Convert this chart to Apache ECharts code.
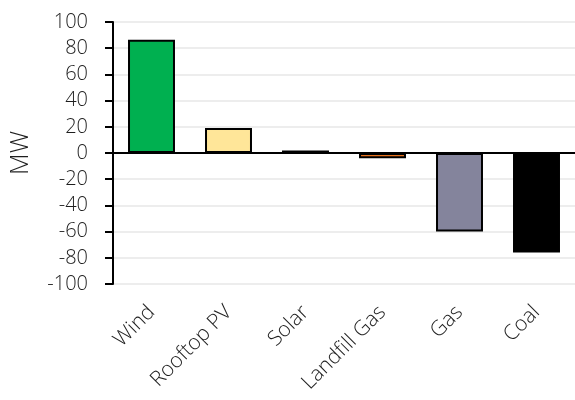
<!DOCTYPE html>
<html>
<head>
<meta charset="utf-8">
<script src="https://cdn.jsdelivr.net/npm/echarts@6/dist/echarts.min.js"></script>
<style>
  html, body { margin: 0; padding: 0; background: #ffffff; }
  #chart { width: 575px; height: 400px; }
</style>
</head>
<body>
<div id="chart"></div>
<script>
// Change in generation by fuel type (MW)
const categories = ['Wind', 'Rooftop PV', 'Solar', 'Landfill Gas', 'Gas', 'Coal'];
const changeMW = [86.5, 19, 2, -4, -60, -76];
const barColors = ['#00B050', '#FFE699', '#A07A2C', '#E8731E', '#84849C', '#000000'];
const yTicks = { min: -100, max: 100, step: 20 };

const font = 'Open Sans, Noto Sans, sans-serif';
const textColor = '#1e1e1e';
const chart = echarts.init(document.getElementById('chart'), null, { renderer: 'canvas' });

chart.setOption({
  animation: false,
  grid: { left: 113, top: 22, width: 468, height: 262, containLabel: false },
  xAxis: [
    {
      type: 'category',
      data: categories,
      position: 'bottom',
      axisLine: { show: false, onZero: false },
      axisTick: { show: false },
      axisLabel: {
        rotate: 45,
        interval: 0,
        margin: 25,
        color: textColor,
        fontFamily: font,
        fontWeight: 300,
        fontSize: 21
      }
    },
    {
      // zero baseline
      type: 'category',
      data: categories,
      position: 'bottom',
      axisLine: { show: true, onZero: true, lineStyle: { color: '#000000', width: 2 } },
      axisTick: { show: false },
      axisLabel: { show: false },
      splitLine: { show: false }
    }
  ],
  yAxis: {
    type: 'value',
    min: yTicks.min,
    max: yTicks.max,
    interval: yTicks.step,
    name: 'MW',
    nameLocation: 'middle',
    nameGap: 80,
    nameTextStyle: { color: textColor, fontFamily: font, fontWeight: 300, fontSize: 25 },
    axisLine: { show: true, lineStyle: { color: '#000000', width: 2 } },
    axisTick: { show: true, length: 8, lineStyle: { color: '#000000', width: 2 } },
    axisLabel: { color: textColor, fontFamily: font, fontWeight: 300, fontSize: 20, margin: 25 },
    splitLine: { show: true, lineStyle: { color: '#EDEDED', width: 2 } }
  },
  series: [{
    type: 'bar',
    xAxisIndex: 0,
    barWidth: '61%',
    data: changeMW.map((v, i) => ({
      value: v,
      itemStyle: { color: barColors[i], borderColor: '#000000', borderWidth: 2 }
    }))
  }]
});
</script>
</body>
</html>
